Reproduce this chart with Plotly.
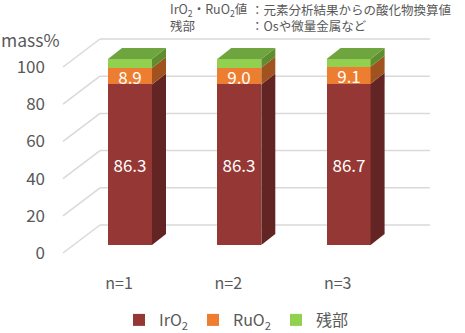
import plotly.graph_objects as go

# ---------------- data ----------------
categories = ["n=1", "n=2", "n=3"]
iro2 = [86.3, 86.3, 86.7]
ruo2 = [8.9, 9.0, 9.1]
residue = [round(100 - a - b, 1) for a, b in zip(iro2, ruo2)]
y_ticks = [0, 20, 40, 60, 80, 100]
series_names = ["IrO<sub>2</sub>", "RuO<sub>2</sub>", "残部"]

# ---------------- styles ----------------
FONT = "Noto Sans CJK JP"
TXT = "#595959"
front_cols = ["#953735", "#ED7D31", "#92D050"]
side_cols = ["#632523", "#A0521F", "#5F8E30"]
top_col = "#6FA53E"
GRID = "#D9D9D9"

W, H = 465, 333
ML, MR, MT, MB = 50, 5, 30, 68
PX0, PXS = 130.0, 109.3     # pixel of category 0, pixels per category
PY0, PYS = 245.0, 1.86      # pixel of value 0, pixels per unit

def xd(px):
    return (px - PX0) / PXS

def yd(py):
    return (PY0 - py) / PYS

xr = [xd(ML), xd(W - MR)]
yr = [yd(H - MB), yd(MT)]

bar_w = 44 / PXS
ddx, ddy = 14 / PXS, 11 / PYS            # bar depth
xf, yf = xd(63), -8 / PYS                # floor front
xb, yb = xd(100), 20 / PYS               # back wall
xe = xd(430)

xpos = list(range(len(categories)))

fig = go.Figure()

# gridlines (3D wall)
shapes = []
for v in y_ticks:
    shapes.append(dict(type="line", xref="x", yref="y", x0=xf, y0=v + yf, x1=xb, y1=v + yb,
                       line=dict(color=GRID, width=1.5), layer="below"))
    shapes.append(dict(type="line", xref="x", yref="y", x0=xb, y0=v + yb, x1=xe, y1=v + yb,
                       line=dict(color=GRID, width=1.5), layer="below"))

# front faces
series = [iro2, ruo2, residue]
for i, (vals, name) in enumerate(zip(series, series_names)):
    fig.add_trace(go.Bar(
        x=xpos, y=vals, width=bar_w, name=name,
        marker=dict(color=front_cols[i], line=dict(width=0)),
        text=[f"{v:.1f}" for v in vals] if i < 2 else None,
        textposition="inside", insidetextanchor="middle", constraintext="none",
        textangle=0,
        textfont=dict(color="white", size=17, family=FONT),
        hoverinfo="skip",
    ))

# side and top faces
for j, x in enumerate(xpos):
    base = 0
    xr_edge = x + bar_w / 2
    for i, vals in enumerate(series):
        top = base + vals[j]
        fig.add_trace(go.Scatter(
            x=[xr_edge, xr_edge + ddx, xr_edge + ddx, xr_edge, xr_edge],
            y=[base, base + ddy, top + ddy, top, base],
            mode="lines", fill="toself", fillcolor=side_cols[i],
            line=dict(width=0, color=side_cols[i]), showlegend=False, hoverinfo="skip"))
        base = top
    xl_edge = x - bar_w / 2
    fig.add_trace(go.Scatter(
        x=[xl_edge, xr_edge, xr_edge + ddx, xl_edge + ddx, xl_edge],
        y=[base, base, base + ddy, base + ddy, base],
        mode="lines", fill="toself", fillcolor=top_col,
        line=dict(width=0, color=top_col), showlegend=False, hoverinfo="skip"))

def cx(px):
    return px / W

def cy(py):
    return 1 - py / H

ann_font = dict(family=FONT, size=12.5, color=TXT)
annotations = [
    dict(text="mass%", x=cx(0), y=cy(40), font=dict(family=FONT, size=17.5, color=TXT)),
    dict(text="IrO<sub>2</sub>・RuO<sub>2</sub>値", x=cx(169), y=cy(9.5), font=ann_font),
    dict(text="：元素分析結果からの酸化物換算値", x=cx(250), y=cy(9.5), font=ann_font),
    dict(text="残部", x=cx(169), y=cy(25.5), font=ann_font),
    dict(text="：Osや微量金属など", x=cx(250), y=cy(25.5), font=ann_font),
]
pw, ph = W - ML - MR, H - MT - MB
for a in annotations:
    a.update(xref="paper", yref="paper", showarrow=False, xanchor="left", yanchor="middle",
             borderpad=0)
    px = a["x"] * W
    py = (1 - a["y"]) * H
    a["x"] = (px - ML) / pw
    a["y"] = (H - MB - py) / ph

fig.update_layout(
    width=W, height=H,
    margin=dict(l=ML, r=MR, t=MT, b=MB),
    paper_bgcolor="white", plot_bgcolor="white",
    barmode="stack", bargap=0,
    shapes=shapes, annotations=annotations,
    font=dict(family=FONT, color=TXT, size=16),
    xaxis=dict(range=xr, tickvals=[x - 0.10 for x in xpos], ticktext=categories,
               showgrid=False, zeroline=False, showline=False, ticks="",
               tickfont=dict(size=16, color=TXT, family=FONT), ticklabelstandoff=7,
               fixedrange=True),
    yaxis=dict(range=yr, tickvals=[v + yf for v in y_ticks], ticktext=[str(v) for v in y_ticks],
               showgrid=False, zeroline=False, showline=False, ticks="",
               tickfont=dict(size=17, color=TXT, family=FONT), ticklabelstandoff=4,
               fixedrange=True),
    showlegend=True,
    legend=dict(orientation="h", xref="container", yref="container",
                x=119 / W, y=1 - 320 / H, xanchor="left", yanchor="middle",
                font=dict(size=16, color=TXT, family=FONT), traceorder="normal",
                itemclick=False, itemdoubleclick=False),
)

fig.write_html("out.html")
